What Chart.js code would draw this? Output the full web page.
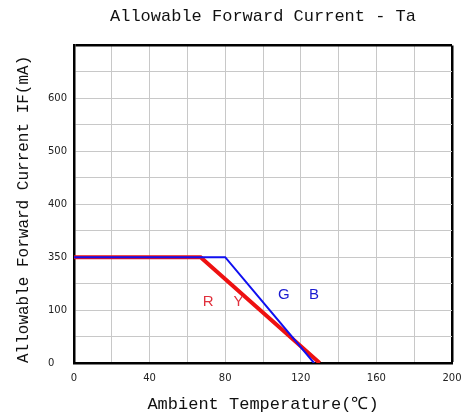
<!DOCTYPE html>
<html>
<head>
<meta charset="utf-8">
<script src="https://cdn.jsdelivr.net/npm/chart.js@4"></script>
<style>
  html, body { margin: 0; padding: 0; background: #fff; }
  #wrap { width: 463px; height: 418px; }
</style>
</head>
<body>
<div id="wrap"><canvas id="myChart" width="463" height="418"></canvas></div>
<script>
// tick labels on the current axis (evenly spaced, as on the datasheet)
const yTickLabels = [0, 100, 350, 400, 500, 600];
const xTicks = [0, 40, 80, 120, 160, 200];

// derating curves: temperature (C) -> current (mA)
const ryTemp = [0, 67, 130];
const ryCurrent = [350, 350, 0];
const gbTemp = [0, 80, 127];
const gbCurrent = [350, 350, 0];

// curve labels
const curveNames = [
    { text: 'R', x: 71, y: 138, color: '#e0303c' },
    { text: 'Y', x: 87, y: 138, color: '#e0303c' },
    { text: 'G', x: 111, y: 170, color: '#1a1ad0' },
    { text: 'B', x: 127, y: 170, color: '#1a1ad0' }
];

// the axis is drawn with evenly spaced ticks, so map mA onto tick index
function toPos(v) {
    for (let i = 0; i < yTickLabels.length - 1; i++) {
        let a = yTickLabels[i], b = yTickLabels[i + 1];
        if (v >= a && v <= b) return i + (v - a) / (b - a);
    }
    return yTickLabels.length - 1;
}

function points(xs, ys) {
    return xs.map((x, i) => ({ x: x, y: toPos(ys[i]) }));
}

const mono = "'Liberation Mono', 'DejaVu Sans Mono', monospace";

const labelPlugin = {
    id: 'curveNames',
    afterDatasetsDraw(chart) {
        const c = chart.ctx;
        const xs = chart.scales.x, ys = chart.scales.y;
        c.save();
        c.font = "15px 'Liberation Sans', sans-serif";
        c.textAlign = 'center';
        c.textBaseline = 'middle';
        curveNames.forEach(n => {
            c.fillStyle = n.color;
            c.fillText(n.text, xs.getPixelForValue(n.x), ys.getPixelForValue(toPos(n.y)));
        });
        c.restore();
    }
};

var ctx = document.getElementById('myChart').getContext('2d');
const chart = new Chart(ctx, {
    type: 'line',
    data: {
        datasets: [{
            data: points(gbTemp, gbCurrent),
            borderColor: '#1010f0',
            borderWidth: 2,
            pointRadius: 0,
            tension: 0
        }, {
            data: points(ryTemp, ryCurrent),
            borderColor: '#ee1111',
            borderWidth: 4,
            pointRadius: 0,
            tension: 0
        }]
    },
    options: {
        responsive: false,
        animation: false,
        layout: { padding: { left: 0, right: 11, top: 0, bottom: 0 } },
        plugins: {
            legend: { display: false },
            tooltip: { enabled: false },
            title: {
                display: true,
                fullSize: false,
                text: 'Allowable Forward Current - Ta',
                color: '#111',
                font: { family: mono, size: 17, weight: 'normal' },
                padding: { top: 6, bottom: 19 },
                align: 'center'
            }
        },
        scales: {
            x: {
                type: 'linear',
                min: 0,
                max: 200,
                afterFit: s => { s.height = 55; s.paddingRight = 0; s.paddingLeft = 0; },
                ticks: {
                    stepSize: 20,
                    autoSkip: false,
                    maxRotation: 0,
                    padding: 9,
                    color: '#222',
                    font: { family: "'DejaVu Sans', sans-serif", size: 10 },
                    callback: v => xTicks.includes(v) ? String(v) : ''
                },
                grid: {
                    drawTicks: false,
                    color: ctx => ctx.tick && ctx.tick.value === 200 ? '#000' : '#c8c8c8',
                    lineWidth: ctx => ctx.tick && ctx.tick.value === 200 ? 2.5 : 1
                },
                border: { color: '#000', width: 2.5 },
                title: {
                    display: true,
                    text: 'Ambient Temperature(℃)',
                    color: '#111',
                    font: { family: mono, size: 17 },
                    padding: { top: 0, bottom: 3 }
                }
            },
            y: {
                type: 'linear',
                min: 0,
                max: 6,
                afterFit: s => { s.width = 74; },
                ticks: {
                    stepSize: 0.5,
                    autoSkip: false,
                    padding: 7,
                    color: '#222',
                    font: { family: "'DejaVu Sans', sans-serif", size: 10 },
                    callback: v => (Number.isInteger(v) && v < yTickLabels.length)
                        ? String(yTickLabels[v]).padEnd(3, '\u2007') : ''
                },
                grid: {
                    drawTicks: false,
                    color: ctx => ctx.tick && ctx.tick.value === 6 ? '#000' : '#c8c8c8',
                    lineWidth: ctx => ctx.tick && ctx.tick.value === 6 ? 2.5 : 1
                },
                border: { color: '#000', width: 2.5 },
                title: {
                    display: true,
                    align: 'start',
                    text: 'Allowable Forward Current IF(mA)',
                    color: '#111',
                    font: { family: mono, size: 16 },
                    padding: { top: 14, bottom: 0 }
                }
            }
        }
    },
    plugins: [labelPlugin]
});
</script>
</body>
</html>
